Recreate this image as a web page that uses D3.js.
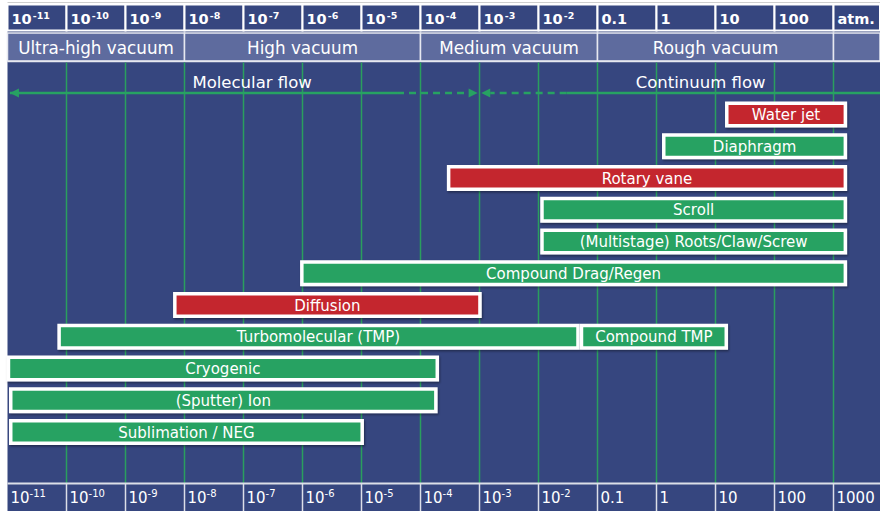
<!DOCTYPE html>
<html><head><meta charset="utf-8">
<script src="https://cdn.jsdelivr.net/npm/d3@7"></script>
<style>body{margin:0;background:#fff}svg{display:block}</style>
</head><body><svg id="c" width="880" height="511"></svg>
<script>
// ---- data ----
const tickExps = [-11,-10,-9,-8,-7,-6,-5,-4,-3,-2,-1,0,1,2,3];
const topBase = ["10","10","10","10","10","10","10","10","10","10","0.1","1","10","100","atm."];
const topSup  = ["-11","-10","-9","-8","-7","-6","-5","-4","-3","-2","","","","",""];
const bottomBase = ["10","10","10","10","10","10","10","10","10","10","0.1","1","10","100","1000"];
const bottomSup  = ["-11","-10","-9","-8","-7","-6","-5","-4","-3","-2","","","","",""];
const regimeNames = ["Ultra-high vacuum","High vacuum","Medium vacuum","Rough vacuum",""];
const regimeLow  = [1e-11,1e-8,1e-4,1e-1,1e3];
const regimeHigh = [1e-8,1e-4,1e-1,1e3,6200];
const flowNames = ["Molecular flow","Continuum flow"];
const flowLabelAt = [1.4e-7, 5.6];
const molecularFlow = [1.1e-11, 4e-5, 9.3e-4];   // tail, end of solid, arrow tip
const continuumFlow = [6200, 3e-2, 1.07e-3];    // tail, end of solid, arrow tip
const pumpNames = ["Water jet","Diaphragm","Rotary vane","Scroll","(Multistage) Roots/Claw/Screw",
  "Compound Drag/Regen","Diffusion","Turbomolecular (TMP)","Compound TMP","Cryogenic","(Sputter) Ion","Sublimation / NEG"];
const pumpLow  = [14.5,1.24,2.8e-4,1.07e-2,1.07e-2,9.1e-7,6.4e-9,7e-11,5e-2,9.7e-12,1.06e-11,1.06e-11];
const pumpHigh = [1700,1700,1700,1700,1700,1700,1.09e-3,5e-2,16.3,2.06e-4,1.95e-4,1.1e-5];
const pumpKind = ["wet","dry","wet","dry","dry","dry","wet","dry","dry","dry","dry","dry"];
const pumpRow  = [0,1,2,3,4,5,6,7,7,8,9,10];

// ---- style ----
const W = 880, H = 511;
const NAVY = "#36467f", BAND = "#5e6b9e", GREEN = "#27a262", LINE = "#2a9e5e", RED = "#c4262e";
const FONT = "'DejaVu Sans', sans-serif";
const colour = {wet: RED, dry: GREEN};

const x = d3.scaleLog().domain([1e-11, 1e3]).range([7.5, 833.5]);
const y = d3.scalePoint().domain(d3.range(11)).range([114.5, 432]);
const top0 = 4.5, top1 = 30.5, band0 = 33, band1 = 61, main0 = 62, main1 = 483;

const svg = d3.select("#c");
const defs = svg.append("defs");
const f = defs.append("filter").attr("id","sh").attr("x","-5%").attr("y","-30%").attr("width","110%").attr("height","170%");
f.append("feDropShadow").attr("dx",1).attr("dy",1.5).attr("stdDeviation",1.2).attr("flood-color","#000").attr("flood-opacity",0.4);

const colL = e => x(Math.pow(10, e));
const colR = e => e === 3 ? W : x(Math.pow(10, e + 1));

svg.append("line").attr("x1",7.5).attr("x2",W).attr("y1",2.5).attr("y2",2.5).attr("stroke","#cfcfcf").attr("stroke-width",1);

// main background
svg.append("rect").attr("x",x(1e-11)).attr("y",top0).attr("width",W - x(1e-11)).attr("height",H - top0).attr("fill",NAVY);

// header cells
const hdr = svg.append("g");
tickExps.forEach((e,i) => {
  hdr.append("rect").attr("x",colL(e)).attr("y",top0).attr("width",colR(e)-colL(e)).attr("height",top1-top0)
    .attr("fill",NAVY).attr("stroke","#fff").attr("stroke-width",2);
  const t = hdr.append("text").attr("x",colL(e)+4).attr("y",24).attr("fill","#fff")
    .attr("font-family",FONT).attr("font-weight","bold").attr("font-size",14.5);
  t.append("tspan").text(topBase[i]);
  if (topSup[i]) t.append("tspan").attr("font-size",9.5).attr("dy",-5).attr("dx",1).text(topSup[i]);
});

// regimes
const rg = svg.append("g");
regimeNames.forEach((n,i) => {
  const a = x(regimeLow[i]), b = Math.min(W, x(regimeHigh[i]));
  rg.append("rect").attr("x",a).attr("y",band0).attr("width",b-a).attr("height",band1-band0)
    .attr("fill",BAND).attr("stroke","#e6e8f0").attr("stroke-width",1.5);
  rg.append("text").attr("x",(a+b)/2).attr("y",53.5).attr("text-anchor","middle").attr("fill","#fff")
    .attr("font-family",FONT).attr("font-size",16.8).text(n);
});
svg.append("line").attr("x1",x(1e-11)).attr("x2",W).attr("y1",band1+0.5).attr("y2",band1+0.5).attr("stroke","#e6e8f0").attr("stroke-width",1.5);

// grid
svg.append("g").selectAll("line").data(tickExps.slice(1)).join("line")
  .attr("x1",e=>colL(e)).attr("x2",e=>colL(e)).attr("y1",main0+0.5).attr("y2",main1)
  .attr("stroke",LINE).attr("stroke-width",1.5);

// flow arrows
const fy = 93;
const fl = svg.append("g");
flowNames.forEach((n,i) => {
  fl.append("text").attr("x",x(flowLabelAt[i])).attr("y",88).attr("text-anchor","middle").attr("fill","#fff")
    .attr("font-family",FONT).attr("font-size",16.5).text(n);
});
function flowArrow(p, dir){
  const tail = Math.min(W, x(p[0])), mid = x(p[1]), tip = x(p[2]);
  const head = 9;
  fl.append("line").attr("x1",tail).attr("x2",mid).attr("y1",fy).attr("y2",fy).attr("stroke",GREEN).attr("stroke-width",2.5);
  fl.append("line").attr("x1",mid).attr("x2",tip - dir*head).attr("y1",fy).attr("y2",fy).attr("stroke",GREEN)
    .attr("stroke-width",2.5).attr("stroke-dasharray","7,5");
  fl.append("path").attr("d",`M${tip},${fy} L${tip-dir*head},${fy-4.5} L${tip-dir*head},${fy+4.5} Z`).attr("fill",GREEN);
}
flowArrow(molecularFlow, 1);
flowArrow(continuumFlow, -1);
fl.append("path").attr("d",`M${x(molecularFlow[0])},${fy} L${x(molecularFlow[0])+9},${fy-4.5} L${x(molecularFlow[0])+9},${fy+4.5} Z`).attr("fill",GREEN);

// pump bars
const bars = svg.append("g");
pumpNames.forEach((n,i) => {
  const a = x(pumpLow[i]), b = x(pumpHigh[i]), cy = y(pumpRow[i]);
  const g = bars.append("g");
  g.append("rect").attr("x",a).attr("y",cy-13).attr("width",b-a).attr("height",26).attr("fill","#fff").attr("filter","url(#sh)");
  g.append("rect").attr("x",a+3.5).attr("y",cy-9.5).attr("width",b-a-7).attr("height",19).attr("fill",colour[pumpKind[i]]);
  g.append("text").attr("x",(a+b)/2).attr("y",cy+5.5).attr("text-anchor","middle").attr("fill","#fff")
    .attr("font-family",FONT).attr("font-size",15).text(n);
});

// bottom row
const bt = svg.append("g");
svg.append("line").attr("x1",x(1e-11)).attr("x2",W).attr("y1",main1+0.5).attr("y2",main1+0.5).attr("stroke","#dcdfe8").attr("stroke-width",2);
tickExps.forEach((e,i) => {
  if (i>0) bt.append("line").attr("x1",colL(e)).attr("x2",colL(e)).attr("y1",main1).attr("y2",H).attr("stroke","#dcdfe8").attr("stroke-width",1.5);
  const t = bt.append("text").attr("x",colL(e)+3).attr("y",503).attr("fill","#fff")
    .attr("font-family",FONT).attr("font-size",15);
  t.append("tspan").text(bottomBase[i]);
  if (bottomSup[i]) t.append("tspan").attr("font-size",10).attr("dy",-6).text(bottomSup[i]);
});
</script></body></html>
